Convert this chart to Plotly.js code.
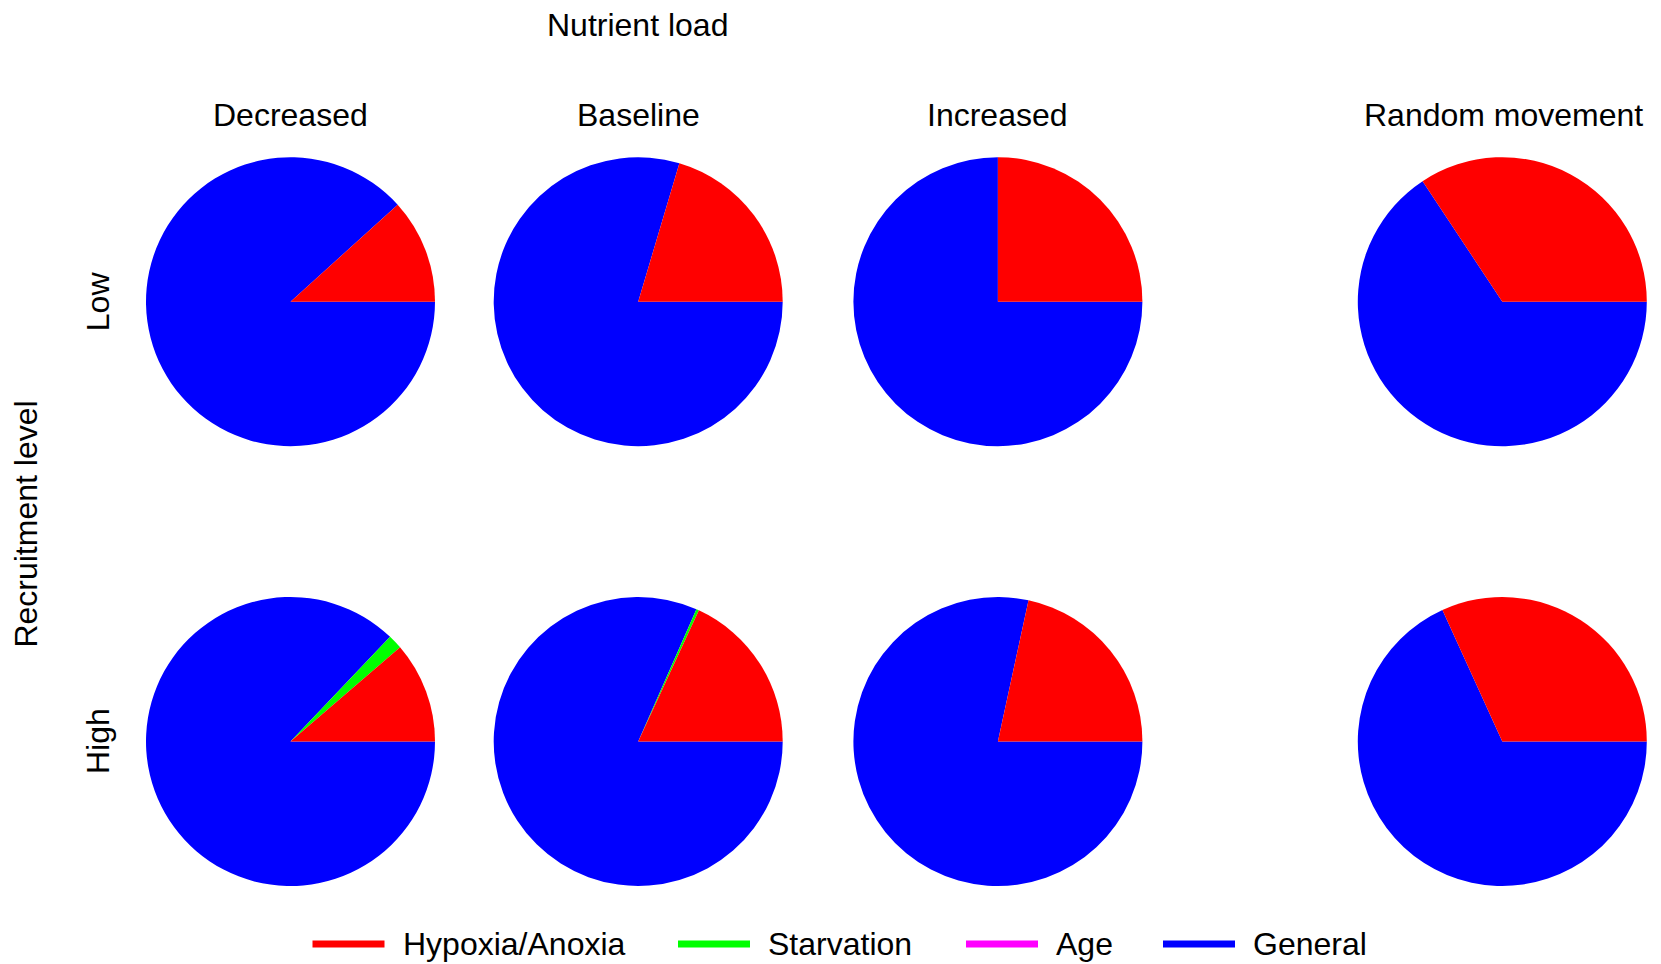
<!DOCTYPE html>
<html>
<head>
<meta charset="utf-8">
<script src="https://cdn.plot.ly/plotly-3.0.1.min.js"></script>
<style>html,body{margin:0;padding:0;background:#fff;}#chart{width:1661px;height:964px;}</style>
</head>
<body>
<div id="chart"></div>
<script>
// ---- data (percent of deaths by cause) ----
const causes = ['Hypoxia/Anoxia', 'Starvation', 'Age', 'General'];
const causeColors = ['#ff0000', '#00ff00', '#ff00ff', '#0000ff'];
const nutrientLevels = ['Decreased', 'Baseline', 'Increased', 'Random movement'];
const recruitmentLevels = ['Low', 'High'];

const hypoxiaLow     = [11.7, 20.4, 25.0, 34.3];
const starvationLow  = [0, 0, 0, 0];
const ageLow         = [0, 0, 0, 0];
const generalLow     = [88.3, 79.6, 75.0, 65.7];

const hypoxiaHigh    = [11.3, 18.1, 21.6, 31.8];
const starvationHigh = [1.6, 0.3, 0, 0];
const ageHigh        = [0, 0, 0, 0];
const generalHigh    = [87.1, 81.6, 78.4, 68.2];

// ---- layout geometry (pixels) ----
const W = 1661, H = 964;
const colCenters = [290.5, 638.2, 997.9, 1502.3];
const rowCenters = [301.7, 741.5];
const R = 144.5;
const FONT = 'Liberation Sans, Arial, Helvetica, sans-serif';
const FS = 32;

const rows = [
  [hypoxiaLow, starvationLow, ageLow, generalLow],
  [hypoxiaHigh, starvationHigh, ageHigh, generalHigh]
];

// slices are laid out clockwise in reverse cause order so that, read
// counterclockwise from 3 o'clock, they appear as Hypoxia, Starvation, Age, General
const revLabels = causes.slice().reverse();
const revColors = causeColors.slice().reverse();

const traces = [];
rows.forEach((series, r) => {
  nutrientLevels.forEach((lvl, c) => {
    const cx = colCenters[c], cy = rowCenters[r];
    traces.push({
      type: 'pie',
      labels: revLabels,
      values: series.map(s => s[c]).reverse(),
      marker: {colors: revColors, line: {width: 0}},
      sort: false,
      direction: 'clockwise',
      rotation: 90,
      textinfo: 'none',
      hoverinfo: 'label+percent',
      showlegend: false,
      domain: {
        x: [(cx - R) / W, (cx + R) / W],
        y: [(H - cy - R) / H, (H - cy + R) / H]
      }
    });
  });
});

const annotations = [];
const txt = (text, x, y, angle) => annotations.push({
  text: text, xref: 'paper', yref: 'paper', x: x / W, y: 1 - y / H,
  xanchor: 'center', yanchor: 'middle', showarrow: false, textangle: angle || 0,
  font: {family: FONT, size: FS, color: '#000'}
});

txt('Nutrient load', 637.7, 24.5);
nutrientLevels.forEach((lvl, c) => txt(lvl, colCenters[c] + (c === 3 ? 1.5 : 0), 114.5));
recruitmentLevels.forEach((lvl, r) => txt(lvl, 97.5, rowCenters[r], -90));
txt('Recruitment level', 26.2, 524.4, -90);

// legend drawn as line keys + labels
const shapes = [];
const legendLineX = [312.5, 678, 966, 1163];
const legendTextX = [401, 766, 1054, 1251];
const legendY = 944;
causes.forEach((name, i) => {
  shapes.push({
    type: 'line', xref: 'paper', yref: 'paper',
    x0: legendLineX[i] / W, x1: (legendLineX[i] + 72) / W,
    y0: 1 - legendY / H, y1: 1 - legendY / H,
    line: {color: causeColors[i], width: 7}
  });
  annotations.push({
    text: name, xref: 'paper', yref: 'paper',
    x: legendTextX[i] / W, y: 1 - legendY / H,
    xanchor: 'left', yanchor: 'middle', showarrow: false,
    font: {family: FONT, size: FS, color: '#000'}
  });
});

const layout = {
  width: W, height: H,
  margin: {l: 0, r: 0, t: 0, b: 0},
  paper_bgcolor: '#fff', plot_bgcolor: '#fff',
  showlegend: false,
  annotations: annotations,
  shapes: shapes,
  font: {family: FONT}
};

Plotly.newPlot('chart', traces, layout, {displayModeBar: false, staticPlot: true});
</script>
</body>
</html>
